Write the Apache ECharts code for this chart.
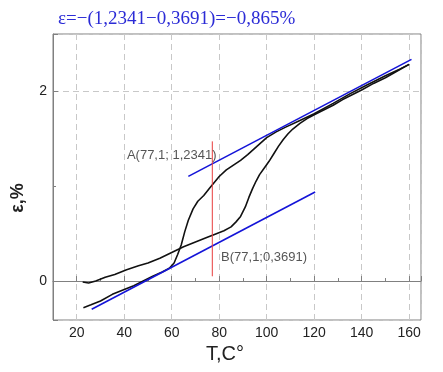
<!DOCTYPE html>
<html>
<head>
<meta charset="utf-8">
<script src="https://cdn.jsdelivr.net/npm/echarts@6/dist/echarts.min.js"></script>
<style>html,body{margin:0;padding:0;background:#fff}#c{width:443px;height:372px}</style>
</head>
<body>
<div id="c"></div>
<script>
// ---- data ----
const titleText = 'ε=−(1,2341−0,3691)=−0,865%';
const xName = 'T,C°';
const yName = 'ε,%';
const xTicks = [20, 40, 60, 80, 100, 120, 140, 160];
const yTicks = [0, 2];

const branch1X = [22.5, 25, 28, 32, 36, 41, 46, 50, 55, 60, 65, 70, 75, 78, 82, 85, 87, 89, 91, 92.5, 94, 95.5, 97, 99, 101, 103, 105, 107, 109, 111, 114, 117, 120, 124, 128, 132, 136, 140, 145, 150, 155, 160];
const branch1Y = [-0.01, -0.02, 0.0, 0.04, 0.07, 0.12, 0.16, 0.19, 0.24, 0.30, 0.36, 0.41, 0.46, 0.49, 0.53, 0.57, 0.62, 0.68, 0.78, 0.88, 0.97, 1.05, 1.12, 1.19, 1.26, 1.34, 1.42, 1.49, 1.55, 1.60, 1.66, 1.71, 1.75, 1.80, 1.85, 1.91, 1.96, 2.01, 2.08, 2.14, 2.21, 2.28];

const branch2X = [22.8, 26, 30, 35, 40, 44, 48, 52, 56, 59, 61, 62.5, 64, 65.5, 67, 69, 71, 73.5, 76, 78, 80, 83, 86, 89, 92, 96, 100, 104, 108, 114, 120, 128, 135, 142, 150, 156, 160];
const branch2Y = [-0.28, -0.25, -0.21, -0.14, -0.09, -0.05, 0.0, 0.05, 0.095, 0.135, 0.19, 0.28, 0.38, 0.52, 0.64, 0.76, 0.84, 0.90, 0.98, 1.04, 1.10, 1.17, 1.22, 1.27, 1.33, 1.42, 1.51, 1.57, 1.62, 1.69, 1.76, 1.87, 1.97, 2.06, 2.16, 2.23, 2.28];

const upperTangentX = [67, 161];
const upperTangentY = [1.1018, 2.3332];
const lowerTangentX = [26.3, 120.4];
const lowerTangentY = [-0.2964, 0.9363];
const redLineX = [77.1, 77.1];
const redLineY = [0.05, 1.47];

const labelA = {text: 'A(77,1; 1,2341)', x: 60.0, y: 1.326};
const labelB = {text: 'B(77,1;0,3691)', x: 98.9, y: 0.253};

// ---- chart ----
const zip = (xs, ys) => xs.map((x, i) => [x, ys[i]]);
const chart = echarts.init(document.getElementById('c'), null, {renderer: 'canvas'});
const gridLine = {show: true, lineStyle: {color: '#c8c8c8', type: [6, 4], width: 1}};
const lineSeries = (xs, ys, color, width) => ({
  type: 'line', data: zip(xs, ys), showSymbol: false, symbol: 'none', smooth: false,
  lineStyle: {color: color, width: width}, silent: true, animation: false, z: 3
});
const labelSeries = (l) => ({
  type: 'scatter', data: [[l.x, l.y]], symbolSize: 0, silent: true, animation: false, z: 5,
  label: {show: true, position: 'inside', formatter: l.text, color: '#2a2a2a', fontSize: 13,
          fontFamily: 'Liberation Sans, Arial, sans-serif'}
});

chart.setOption({
  animation: false,
  backgroundColor: '#fff',
  title: {
    text: titleText, left: 53, top: 5,
    textStyle: {fontFamily: 'Liberation Serif, Times New Roman, serif', fontSize: 19, fontWeight: 'normal', color: '#2b2bd6'}
  },
  grid: {left: 53, right: 22, top: 34, bottom: 52, show: true, borderColor: '#808080', borderWidth: 1, backgroundColor: 'transparent'},
  xAxis: {
    type: 'value', min: 10, max: 165, minInterval: 20, maxInterval: 20, splitNumber: 8,
    name: xName, nameLocation: 'middle', nameGap: 24,
    nameTextStyle: {fontSize: 20, color: '#222', fontFamily: 'Liberation Sans, Arial, sans-serif', padding: [0, 24, 0, 0]},
    axisLine: {show: true, lineStyle: {color: '#808080', width: 1}},
    axisTick: {show: true, inside: true, length: 5, lineStyle: {color: '#808080'}},
    minorTick: {show: true, splitNumber: 2, length: 3, lineStyle: {color: '#808080'}},
    axisLabel: {margin: 6, fontSize: 14, color: '#222', fontFamily: 'Liberation Sans, Arial, sans-serif',
      formatter: v => xTicks.includes(v) ? String(v) : ''},
    splitLine: gridLine
  },
  yAxis: {
    type: 'value', min: -0.41, max: 2.6, minInterval: 2, maxInterval: 2, splitNumber: 2,
    name: yName, nameLocation: 'middle', nameGap: 26, nameRotate: 90,
    nameTextStyle: {fontSize: 18, fontWeight: 'bold', color: '#222', fontFamily: 'Liberation Sans, Arial, sans-serif', padding: [0, 42, 0, 0]},
    axisLine: {show: true, lineStyle: {color: '#808080', width: 1}},
    axisTick: {show: true, inside: true, length: 5, lineStyle: {color: '#808080'}},
    minorTick: {show: true, splitNumber: 2, length: 3, lineStyle: {color: '#808080'}},
    axisLabel: {margin: 6, fontSize: 14, color: '#222', fontFamily: 'Liberation Sans, Arial, sans-serif',
      formatter: v => yTicks.includes(v) ? String(v) : ''},
    splitLine: gridLine
  },
  series: [
    lineSeries(branch1X, branch1Y, '#111', 1.6),
    lineSeries(branch2X, branch2Y, '#111', 1.6),
    lineSeries(upperTangentX, upperTangentY, '#1414d8', 1.6),
    lineSeries(lowerTangentX, lowerTangentY, '#1414d8', 1.6),
    lineSeries(redLineX, redLineY, '#e83c3c', 1),
    labelSeries(labelA),
    labelSeries(labelB)
  ]
});
</script>
</body>
</html>
